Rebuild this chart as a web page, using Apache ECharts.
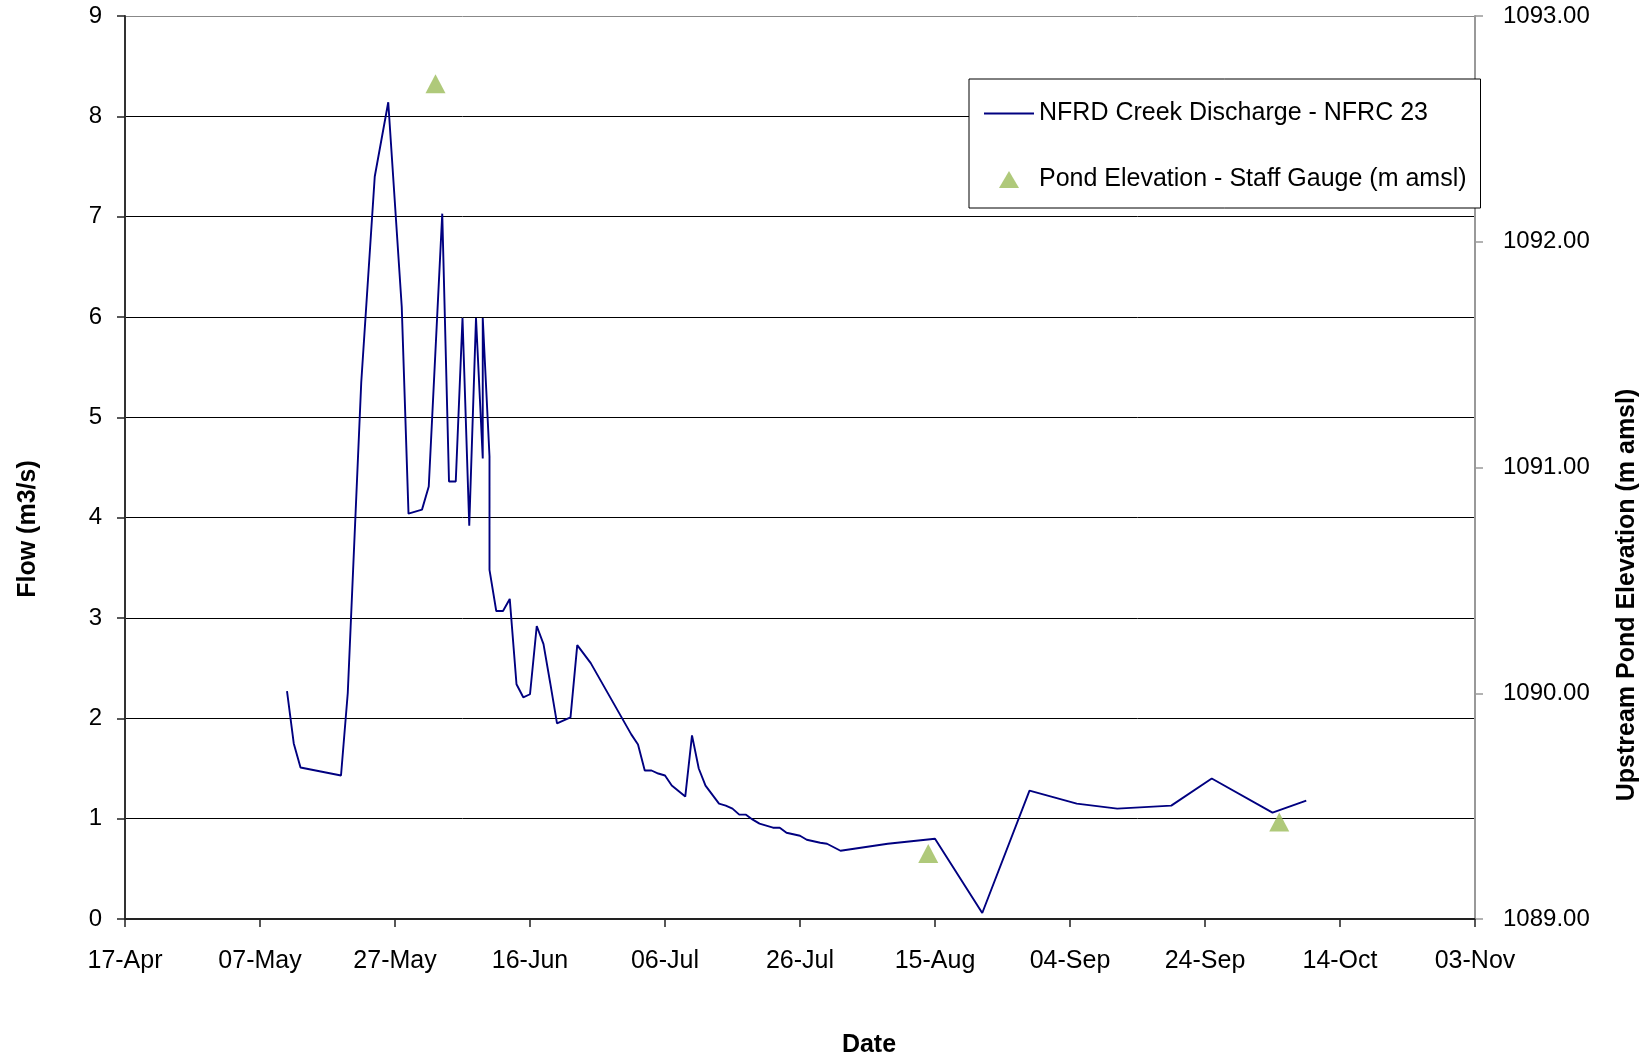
<!DOCTYPE html>
<html>
<head>
<meta charset="utf-8">
<script src="https://cdn.jsdelivr.net/npm/echarts@6/dist/echarts.min.js"></script>
<style>
html,body{margin:0;padding:0;background:#fff;}
#chart{width:1651px;height:1056px;}
</style>
</head>
<body>
<div id="chart"></div>
<script>
// ---- data ----
const startDate = '2007-04-17';
const xTickLabels = ['17-Apr','07-May','27-May','16-Jun','06-Jul','26-Jul','15-Aug','04-Sep','24-Sep','14-Oct','03-Nov'];
const flowName = 'NFRD Creek Discharge - NFRC 23';
const pondName = 'Pond Elevation - Staff Gauge (m amsl)';
const flowDates = [
  '2007-05-11','2007-05-12','2007-05-13','2007-05-19','2007-05-20','2007-05-22','2007-05-24','2007-05-26',
  '2007-05-28','2007-05-29','2007-05-31','2007-06-01','2007-06-03','2007-06-04','2007-06-05','2007-06-06',
  '2007-06-07','2007-06-08','2007-06-09','2007-06-09','2007-06-10','2007-06-10','2007-06-11','2007-06-12',
  '2007-06-13','2007-06-14','2007-06-15','2007-06-16','2007-06-17','2007-06-18','2007-06-19','2007-06-20',
  '2007-06-22','2007-06-23','2007-06-25','2007-07-01','2007-07-02','2007-07-03','2007-07-04','2007-07-05',
  '2007-07-06','2007-07-07','2007-07-09','2007-07-10','2007-07-11','2007-07-12','2007-07-14','2007-07-15',
  '2007-07-16','2007-07-17','2007-07-18','2007-07-19','2007-07-20','2007-07-22','2007-07-23','2007-07-24',
  '2007-07-26','2007-07-27','2007-07-29','2007-07-30','2007-08-01','2007-08-08','2007-08-15','2007-08-22',
  '2007-08-29','2007-09-05','2007-09-11','2007-09-19','2007-09-25','2007-10-04','2007-10-09'
];
const flowValues = [
  2.27, 1.75, 1.51, 1.43, 2.25, 5.35, 7.40, 8.14,
  6.10, 4.04, 4.08, 4.31, 7.03, 4.36, 4.36, 5.99,
  3.92, 5.99, 4.59, 5.99, 4.61, 3.48, 3.07, 3.07,
  3.19, 2.34, 2.21, 2.24, 2.92, 2.74, 2.35, 1.95,
  2.01, 2.73, 2.55, 1.84, 1.74, 1.48, 1.48, 1.45,
  1.43, 1.33, 1.22, 1.83, 1.50, 1.33, 1.15, 1.13,
  1.10, 1.04, 1.04, 0.99, 0.95, 0.91, 0.91, 0.86,
  0.83, 0.79, 0.76, 0.75, 0.68, 0.75, 0.80, 0.06,
  1.28, 1.15, 1.10, 1.13, 1.40, 1.06, 1.18
];
const pondDates = ['2007-06-02','2007-08-14','2007-10-05'];
const pondValues = [1092.70, 1089.29, 1089.43];

// ---- helpers ----
function dayOffset(d) {
  const p = d.split('-').map(Number);
  const s = startDate.split('-').map(Number);
  return (Date.UTC(p[0], p[1] - 1, p[2]) - Date.UTC(s[0], s[1] - 1, s[2])) / 86400000;
}
const flowData = flowDates.map((d, i) => [dayOffset(d), flowValues[i]]);
const pondData = pondDates.map((d, i) => [dayOffset(d), pondValues[i]]);

const FONT = "'Liberation Sans', Arial, Helvetica, sans-serif";
const chart = echarts.init(document.getElementById('chart'), null, {renderer: 'canvas'});

const gridColors = ['#000','#000','#000','#000','#000','#000','#000','#000','#000','#888'];
// legend icons: bounding box 50x17 kept via leading move-to points
const lineIcon = 'path://M0,0M50,17M0,7.6L50,7.6L50,9.4L0,9.4Z';
const triIcon = 'path://M0,0M50,17M25,0L35,17L15,17Z';

chart.setOption({
  animation: false,
  backgroundColor: '#fff',
  grid: {left: 125, top: 16, width: 1350, height: 903, outerBoundsMode: 'none', containLabel: false},
  legend: {
    orient: 'vertical',
    left: 969, top: 79,
    itemWidth: 50, itemHeight: 17, itemGap: 41,
    padding: [22, 14, 16, 15],
    borderColor: '#000', borderWidth: 1, borderRadius: 0,
    backgroundColor: '#fff',
    textStyle: {fontFamily: FONT, fontSize: 25, color: '#000'},
    data: [{name: flowName, icon: lineIcon}, {name: pondName, icon: triIcon}]
  },
  xAxis: {
    type: 'value',
    min: 0, max: 200, interval: 20,
    axisLine: {show: true, lineStyle: {color: '#222', width: 2}},
    axisTick: {show: true, length: 8, lineStyle: {color: '#222', width: 1.5}},
    splitLine: {show: false},
    axisLabel: {
      margin: 30, fontFamily: FONT, fontSize: 25, color: '#000',
      formatter: v => xTickLabels[Math.round(v / 20)] || ''
    }
  },
  yAxis: [
    {
      type: 'value', position: 'left',
      min: 0, max: 9, interval: 1,
      axisLine: {show: true, lineStyle: {color: '#333', width: 2}},
      axisTick: {show: true, length: 8, lineStyle: {color: '#222', width: 1.5}},
      splitLine: {show: true, lineStyle: {color: gridColors, width: 1}},
      axisLabel: {margin: 23, fontFamily: FONT, fontSize: 24, color: '#000'}
    },
    {
      type: 'value', position: 'right',
      min: 1089, max: 1093, interval: 1,
      axisLine: {show: true, lineStyle: {color: '#999', width: 2}},
      axisTick: {show: true, length: 8, lineStyle: {color: '#999', width: 1.5}},
      splitLine: {show: false},
      axisLabel: {margin: 28, fontFamily: FONT, fontSize: 24, color: '#000', formatter: v => v.toFixed(2)}
    }
  ],
  series: [
    {
      name: flowName, type: 'line', yAxisIndex: 0,
      data: flowData, symbol: 'none', showSymbol: false,
      lineStyle: {color: '#000080', width: 1.9},
      itemStyle: {color: '#000080'},
      z: 3
    },
    {
      name: pondName, type: 'scatter', yAxisIndex: 1,
      data: pondData, symbol: 'triangle', symbolSize: [20, 19],
      itemStyle: {color: '#9BBB59'},
      z: 4
    }
  ],
  graphic: [
    {type: 'text', x: 28, y: 529, rotation: Math.PI / 2,
     style: {text: 'Flow (m3/s)', font: 'bold 25px ' + FONT, fill: '#000', textAlign: 'center', textVerticalAlign: 'middle'}},
    {type: 'text', x: 1627, y: 595, rotation: Math.PI / 2,
     style: {text: 'Upstream Pond Elevation (m amsl)', font: 'bold 25px ' + FONT, fill: '#000', textAlign: 'center', textVerticalAlign: 'middle'}},
    {type: 'text', x: 869, y: 1045,
     style: {text: 'Date', font: 'bold 25px ' + FONT, fill: '#000', textAlign: 'center', textVerticalAlign: 'middle'}}
  ]
});
</script>
</body>
</html>
